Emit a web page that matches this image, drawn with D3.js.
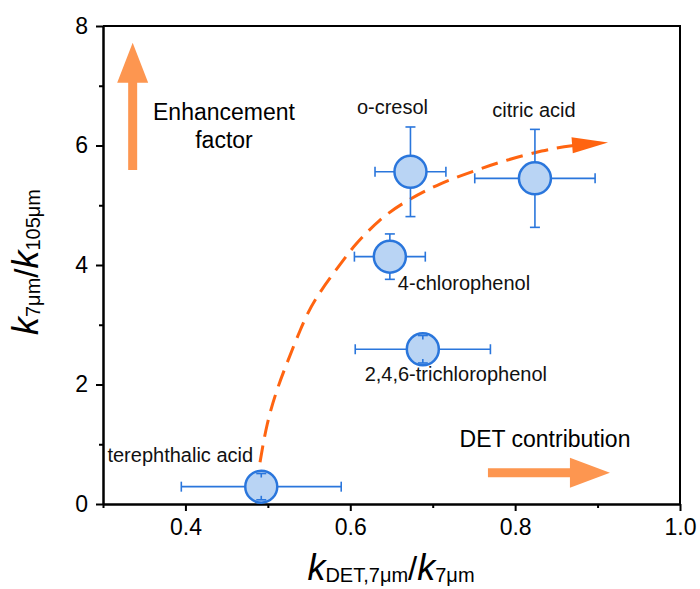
<!DOCTYPE html>
<html>
<head>
<meta charset="utf-8">
<script src="https://cdn.jsdelivr.net/npm/d3@7"></script>
<style>
  html, body { margin: 0; padding: 0; background: #fff; }
  svg { display: block; font-family: "Liberation Sans", Arial, sans-serif; }
</style>
</head>
<body>
<svg id="chart" width="700" height="589"></svg>
<script>
// ---------------- data ----------------
const compounds = ["terephthalic acid", "o-cresol", "citric acid", "4-chlorophenol", "2,4,6-trichlorophenol"];
const xValues = [0.492, 0.673, 0.824, 0.648, 0.688];
const yValues = [0.29, 5.56, 5.45, 4.14, 2.59];
const xErrors = [0.097, 0.043, 0.073, 0.043, 0.082];
const yErrors = [0.22, 0.75, 0.82, 0.38, 0.23];

// guide curve
const curveX = [0.4905, 0.4986, 0.5107, 0.5229, 0.539, 0.5551, 0.5915, 0.6037, 0.636, 0.6684, 0.7088, 0.7534, 0.7898, 0.8342, 0.8666, 0.9127];
const curveY = [0.70, 1.35, 1.91, 2.35, 2.91, 3.41, 4.08, 4.31, 4.78, 5.08, 5.37, 5.59, 5.76, 5.92, 6.00, 6.05];

const xMajorTicks = [0.4, 0.6, 0.8, 1.0];
const xMinorTicks = [0.3, 0.5, 0.7, 0.9];
const yMajorTicks = [0, 2, 4, 6, 8];
const yMinorTicks = [1, 3, 5, 7];
const xDomain = [0.3, 1.0];
const yDomain = [0, 8];

// annotation arrows (data coordinates)
const upArrow = { x: 0.336, y0: 5.59, y1: 7.72 };
const rightArrow = { y: 0.524, x0: 0.767, x1: 0.915 };

// ---------------- layout ----------------
const svg = d3.select("#chart");
const mLeft = 103, mRight = 680, mTop = 26, mBottom = 504;
const x = d3.scaleLinear().domain(xDomain).range([mLeft, mRight]);
const y = d3.scaleLinear().domain(yDomain).range([mBottom, mTop]);

const FONT = '"Liberation Sans", Arial, sans-serif';
const orangeCurve = "#ff6410";
const orangeArrow = "#fd9650";
const blueStroke = "#2a76dc";
const blueFill = "#b9d4f4";
const R = 16;

// frame (top + right)
svg.append("path")
  .attr("d", `M${mLeft},${mTop}H${mRight}V${mBottom}`)
  .attr("fill", "none").attr("stroke", "#000").attr("stroke-width", 2);

// axes
svg.append("g").attr("transform", `translate(0,${mBottom})`)
  .call(d3.axisBottom(x).tickValues(xMajorTicks).tickFormat(d3.format(".1f")).tickSize(7).tickSizeOuter(0).tickPadding(8));
svg.append("g").attr("transform", `translate(0,${mBottom})`)
  .call(d3.axisBottom(x).tickValues(xMinorTicks).tickFormat("").tickSize(4).tickSizeOuter(0));
svg.append("g").attr("transform", `translate(${mLeft},0)`)
  .call(d3.axisLeft(y).tickValues(yMajorTicks).tickFormat(d3.format("d")).tickSize(7).tickSizeOuter(0).tickPadding(8));
svg.append("g").attr("transform", `translate(${mLeft},0)`)
  .call(d3.axisLeft(y).tickValues(yMinorTicks).tickFormat("").tickSize(4).tickSizeOuter(0));

svg.selectAll(".domain").attr("stroke", "#000").attr("stroke-width", 2);
svg.selectAll(".tick line").attr("stroke", "#000").attr("stroke-width", 2);
svg.selectAll(".tick text").attr("font-family", FONT).attr("font-size", 23).attr("fill", "#000");

// axis titles
const xt = svg.append("text").attr("x", 391).attr("y", 580).attr("text-anchor", "middle")
  .attr("font-family", FONT).attr("fill", "#000");
xt.append("tspan").attr("font-style", "italic").attr("font-size", 36).text("k");
xt.append("tspan").attr("font-size", 20).attr("dy", 2).text("DET,7μm");
xt.append("tspan").attr("font-size", 33).attr("dy", -2).text("/");
xt.append("tspan").attr("font-style", "italic").attr("font-size", 36).text("k");
xt.append("tspan").attr("font-size", 20).attr("dy", 2).text("7μm");

const yt = svg.append("text").attr("transform", "translate(38,262) rotate(-90)").attr("text-anchor", "middle")
  .attr("font-family", FONT).attr("fill", "#000");
yt.append("tspan").attr("font-style", "italic").attr("font-size", 36).text("k");
yt.append("tspan").attr("font-size", 20).attr("dy", 2).text("7μm");
yt.append("tspan").attr("font-size", 33).attr("dy", -2).text("/");
yt.append("tspan").attr("font-style", "italic").attr("font-size", 36).text("k");
yt.append("tspan").attr("font-size", 20).attr("dy", 2).text("105μm");

// dashed guide curve
const curvePts = curveX.map((v, i) => [x(v), y(curveY[i])]);
svg.append("path")
  .datum(curvePts)
  .attr("d", d3.line().curve(d3.curveBasis))
  .attr("fill", "none").attr("stroke", orangeCurve).attr("stroke-width", 3)
  .attr("stroke-dasharray", "17,9");
{
  const n = curvePts.length;
  const [tx, ty] = curvePts[n - 1];
  const [px, py] = curvePts[n - 2];
  const ang = Math.atan2(ty - py, tx - px) * 180 / Math.PI;
  svg.append("path")
    .attr("d", "M0,0 L-36,-8 L-36,8 Z")
    .attr("transform", `translate(${tx},${ty}) rotate(${ang})`)
    .attr("fill", orangeCurve);
}

// annotation arrows
function blockArrow(x0, y0, x1, y1, shaftW, headW, headL, color) {
  const dx = x1 - x0, dy = y1 - y0;
  const L = Math.hypot(dx, dy);
  const ang = Math.atan2(dy, dx) * 180 / Math.PI;
  svg.append("path")
    .attr("d", `M0,${-shaftW / 2} L${L - headL},${-shaftW / 2} L${L - headL},${-headW / 2} L${L},0 L${L - headL},${headW / 2} L${L - headL},${shaftW / 2} L0,${shaftW / 2} Z`)
    .attr("transform", `translate(${x0},${y0}) rotate(${ang})`)
    .attr("fill", color);
}
blockArrow(x(upArrow.x), y(upArrow.y0), x(upArrow.x), y(upArrow.y1), 9, 31, 40, orangeArrow);
blockArrow(x(rightArrow.x0), y(rightArrow.y), x(rightArrow.x1), y(rightArrow.y), 9, 30, 40, orangeArrow);

svg.append("text").attr("x", 224).attr("y", 120).attr("text-anchor", "middle")
  .attr("font-family", FONT).attr("font-size", 23).text("Enhancement");
svg.append("text").attr("x", 224).attr("y", 148).attr("text-anchor", "middle")
  .attr("font-family", FONT).attr("font-size", 23).text("factor");
svg.append("text").attr("x", 545).attr("y", 447).attr("text-anchor", "middle")
  .attr("font-family", FONT).attr("font-size", 23).text("DET contribution");

// points
const pts = compounds.map((name, i) => ({ name, x: xValues[i], y: yValues[i], xe: xErrors[i], ye: yErrors[i] }));
const cap = 5;
const eb = svg.append("g").attr("stroke", blueStroke).attr("stroke-width", 1.6).attr("fill", "none");
pts.forEach(d => {
  const cx = x(d.x), cy = y(d.y);
  const xl = x(d.x - d.xe), xr = x(d.x + d.xe), yt2 = y(d.y + d.ye), yb = y(d.y - d.ye);
  eb.append("line").attr("x1", xl).attr("x2", xr).attr("y1", cy).attr("y2", cy);
  eb.append("line").attr("x1", cx).attr("x2", cx).attr("y1", yt2).attr("y2", yb);
});
svg.append("g").selectAll("circle").data(pts).join("circle")
  .attr("cx", d => x(d.x)).attr("cy", d => y(d.y)).attr("r", R)
  .attr("fill", blueFill).attr("stroke", blueStroke).attr("stroke-width", 2.5);
const caps = svg.append("g").attr("stroke", blueStroke).attr("stroke-width", 1.6);
pts.forEach(d => {
  const cx = x(d.x), cy = y(d.y);
  const xl = x(d.x - d.xe), xr = x(d.x + d.xe), yt2 = y(d.y + d.ye), yb = y(d.y - d.ye);
  [xl, xr].forEach(v => caps.append("line").attr("x1", v).attr("x2", v).attr("y1", cy - cap).attr("y2", cy + cap));
  [yt2, yb].forEach(v => caps.append("line").attr("x1", cx - cap).attr("x2", cx + cap).attr("y1", v).attr("y2", v));
  if (Math.abs(cy - yt2) < R) {
    caps.append("line").attr("x1", cx).attr("x2", cx).attr("y1", yt2).attr("y2", yt2 + 4);
    caps.append("line").attr("x1", cx).attr("x2", cx).attr("y1", yb).attr("y2", yb - 4);
  }
});

// point labels (pixel offsets from the marker)
const labelLayout = {
  "terephthalic acid": { dx: -81, dy: -25, anchor: "middle" },
  "o-cresol": { dx: -18, dy: -58, anchor: "middle" },
  "citric acid": { dx: -1, dy: -61, anchor: "middle" },
  "4-chlorophenol": { dx: 8, dy: 33, anchor: "start" },
  "2,4,6-trichlorophenol": { dx: 33, dy: 32, anchor: "middle" }
};
svg.append("g").selectAll("text").data(pts).join("text")
  .attr("x", d => x(d.x) + labelLayout[d.name].dx)
  .attr("y", d => y(d.y) + labelLayout[d.name].dy)
  .attr("text-anchor", d => labelLayout[d.name].anchor)
  .attr("font-family", FONT).attr("font-size", 20).attr("fill", "#111")
  .text(d => d.name);
</script>
</body>
</html>
